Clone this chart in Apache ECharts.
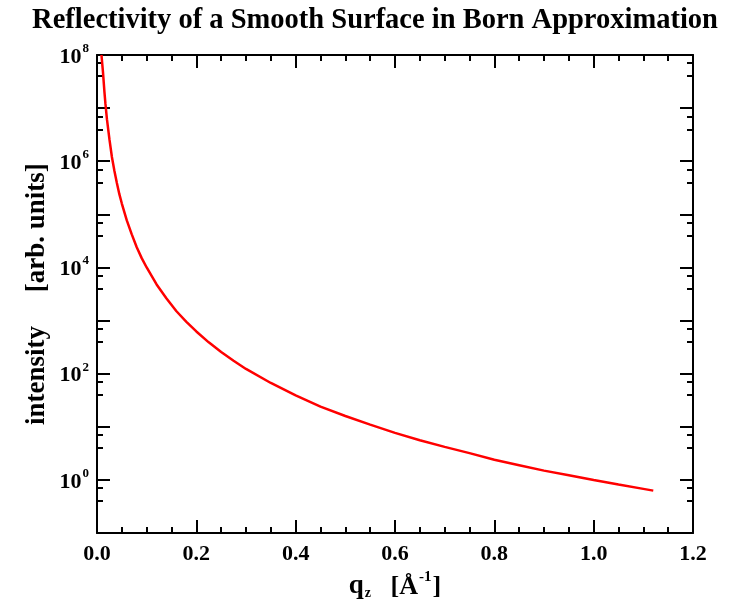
<!DOCTYPE html>
<html>
<head>
<meta charset="utf-8">
<script src="https://cdn.jsdelivr.net/npm/echarts@6/dist/echarts.min.js"></script>
<style>html,body{margin:0;padding:0;background:#fff;}#c{width:731px;height:605px;}</style>
</head>
<body>
<div id="c"></div>
<script>
// Data
var qz = [0.009, 0.012, 0.015, 0.017, 0.020, 0.025, 0.030, 0.035, 0.040, 0.045,
          0.050, 0.060, 0.070, 0.080, 0.090, 0.100, 0.120, 0.140, 0.160, 0.180,
          0.200, 0.225, 0.250, 0.275, 0.300, 0.350, 0.400, 0.450, 0.500, 0.550,
          0.600, 0.650, 0.700, 0.750, 0.800, 0.850, 0.900, 0.950, 1.000, 1.050,
          1.100, 1.120];
var intensity = [1.0e8, 4.8e7, 2.0e7, 1.2e7, 6.2e6, 2.6e6, 1.2e6, 6.6e5, 3.9e5, 2.4e5,
                 1.6e5, 7.7e4, 4.2e4, 2.4e4, 1.5e4, 1.0e4, 4.8e3, 2.6e3, 1.5e3, 950,
                 625, 390, 256, 175, 123, 67, 39, 24, 16, 11,
                 7.7, 5.6, 4.2, 3.2, 2.4, 1.9, 1.5, 1.23, 1.0, 0.82,
                 0.68, 0.63];
var xTickLabels = ['0.0', '0.2', '0.4', '0.6', '0.8', '1.0', '1.2'];
var yLabelExponents = [0, 2, 4, 6, 8];

var titleText = 'Reflectivity of a Smooth Surface in Born Approximation';
var yTitle = 'intensity     [arb. units]';

var FONT = '"Liberation Serif", "Times New Roman", serif';
var seriesData = qz.map(function (q, i) { return [q, intensity[i]]; });

var chart = echarts.init(document.getElementById('c'), null, {renderer: 'canvas'});

var axisLine = {show: true, onZero: false, lineStyle: {color: '#000', width: 2}};
var axisTick = {show: true, inside: true, length: 13, lineStyle: {color: '#000', width: 2}};
var minorTickX = {show: true, splitNumber: 4, length: 6, lineStyle: {color: '#000', width: 2}};
var minorTickY = {show: true, splitNumber: 3, length: 6, lineStyle: {color: '#000', width: 2}};

function yFmt(v) {
  var e = Math.round(Math.log(v) / Math.LN10);
  if (yLabelExponents.indexOf(e) < 0) return '';
  return '{b|10}{s|' + e + '}';
}
function xFmt(v) {
  var idx = Math.round(v / 0.2);
  return xTickLabels[idx] !== undefined ? xTickLabels[idx] : '';
}

chart.setOption({
  backgroundColor: '#fff',
  animation: false,
  graphic: [{
    type: 'text', x: 375, y: 21,
    style: {text: titleText, font: 'bold 28.5px ' + FONT, fill: '#000',
            textAlign: 'center', textVerticalAlign: 'middle'}
  }],
  grid: {left: 97, right: 38, top: 55, bottom: 68, containLabel: false},
  xAxis: [{
    type: 'value', position: 'bottom', min: 0, max: 1.2, interval: 0.2,
    axisLine: axisLine, axisTick: axisTick, minorTick: minorTickX,
    splitLine: {show: false},
    axisLabel: {formatter: xFmt, margin: 10, color: '#000', fontFamily: FONT,
                fontWeight: 'bold', fontSize: 22},
    name: '{q|q}{sub|z}{n|   [Å}{sup|-1}{n|]}',
    nameLocation: 'middle', nameGap: 36,
    nameTextStyle: {
      color: '#000', fontFamily: FONT, fontWeight: 'bold', fontSize: 26,
      rich: {
        q: {fontFamily: FONT, fontWeight: 'bold', fontSize: 27, lineHeight: 30, verticalAlign: 'bottom', color: '#000'},
        n: {fontFamily: FONT, fontWeight: 'bold', fontSize: 26, lineHeight: 30, verticalAlign: 'bottom', color: '#000'},
        sub: {fontFamily: FONT, fontWeight: 'bold', fontSize: 14, lineHeight: 14, verticalAlign: 'bottom', color: '#000', padding: [0, 0, 0, 1]},
        sup: {fontFamily: FONT, fontWeight: 'bold', fontSize: 15, lineHeight: 15, verticalAlign: 'top', color: '#000', padding: [0, 1, 0, 1]}
      }
    }
  }, {
    type: 'value', position: 'top', min: 0, max: 1.2, interval: 0.2,
    axisLine: axisLine, axisTick: axisTick, minorTick: minorTickX,
    splitLine: {show: false}, axisLabel: {show: false}
  }],
  yAxis: [{
    type: 'log', logBase: 10, position: 'left', min: 0.1, max: 1e8, interval: 1,
    axisLine: axisLine, axisTick: axisTick, minorTick: minorTickY,
    splitLine: {show: false},
    axisLabel: {
      formatter: yFmt, margin: 8, color: '#000',
      rich: {
        b: {fontFamily: FONT, fontWeight: 'bold', fontSize: 22, lineHeight: 26, verticalAlign: 'bottom', color: '#000'},
        s: {fontFamily: FONT, fontWeight: 'bold', fontSize: 13, lineHeight: 13, verticalAlign: 'top', color: '#000', padding: [0, 0, 0, 1]}
      }
    },
    name: yTitle, nameLocation: 'middle', nameGap: 46, nameRotate: 90,
    nameMoveOverlap: false,
    nameTextStyle: {color: '#000', fontFamily: FONT, fontWeight: 'bold', fontSize: 27}
  }, {
    type: 'log', logBase: 10, position: 'right', min: 0.1, max: 1e8, interval: 1,
    axisLine: axisLine, axisTick: axisTick, minorTick: minorTickY,
    splitLine: {show: false}, axisLabel: {show: false}
  }],
  series: [{
    type: 'line', xAxisIndex: 0, yAxisIndex: 0, data: seriesData,
    showSymbol: false, symbol: 'none', smooth: false, clip: true,
    lineStyle: {color: '#ff0000', width: 2.5}
  }]
});
</script>
</body>
</html>
